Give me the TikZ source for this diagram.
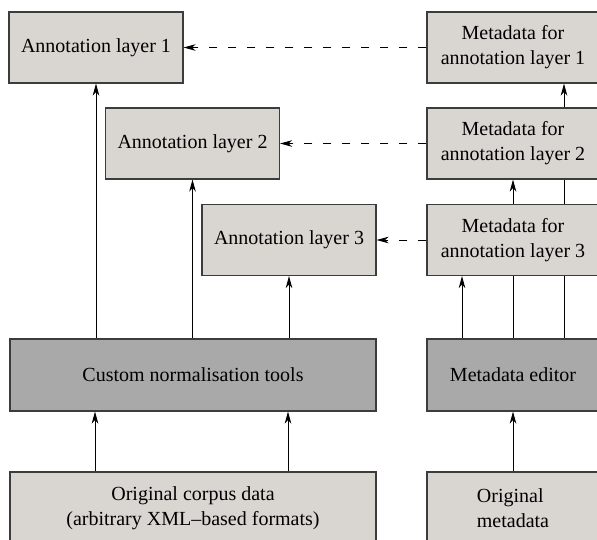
\documentclass[tikz,border=0pt]{standalone}
\usepackage{fontspec}
\setmainfont{Liberation Serif}
\usetikzlibrary{arrows.meta,backgrounds,calc}
\definecolor{lightbox}{RGB}{217,214,210}
\definecolor{darkbox}{RGB}{169,169,169}
\definecolor{boxline}{RGB}{60,60,60}
\tikzset{
  lbox/.style={draw=boxline, line width=1.1pt, fill=lightbox, rectangle, inner sep=0pt, align=center,
    font=\fontsize{20}{25}\selectfont},
  dbox/.style={lbox, fill=darkbox},
  arr/.style={line width=0.9pt, -{Stealth[length=12pt,width=6.5pt,inset=3.5pt]}},
  darr/.style={arr, dash pattern=on 8pt off 11pt},
}
\begin{document}
\begin{tikzpicture}[x=1pt,y=-1pt]
\clip (0,0) rectangle (597,539);
% annotation layers
\node[lbox, minimum width=174pt, minimum height=71pt] (al1) at (96,47.5) {Annotation layer 1};
\node[lbox, minimum width=174pt, minimum height=71pt] (al2) at (192.5,143.5) {Annotation layer 2};
\node[lbox, minimum width=174pt, minimum height=71pt] (al3) at (289,240) {Annotation layer 3};
% metadata
\node[lbox, minimum width=172pt, minimum height=71pt] (m1) at (513,47.5) {Metadata for\\annotation layer 1};
\node[lbox, minimum width=172pt, minimum height=71pt] (m2) at (513,143.5) {Metadata for\\annotation layer 2};
\node[lbox, minimum width=172pt, minimum height=71pt] (m3) at (513,240) {Metadata for\\annotation layer 3};
% tools
\node[dbox, minimum width=366pt, minimum height=72pt] (cnt) at (193,375) {Custom normalisation tools};
\node[dbox, minimum width=172pt, minimum height=72pt] (me) at (513,375) {Metadata editor};
% sources
\node[lbox, minimum width=366pt, minimum height=72pt] (ocd) at (193,508) {Original corpus data\\(arbitrary XML\char"2013 based formats)};
\node[lbox, minimum width=172pt, minimum height=72pt, align=left] (om) at (513,508) {Original\\metadata};
% connectors
\coordinate (c1) at ($(cnt.north west)!(al1.south)!(cnt.north east)$);
\coordinate (c2) at ($(cnt.north west)!(al2.south)!(cnt.north east)$);
\coordinate (c3) at ($(cnt.north west)!(al3.south)!(cnt.north east)$);
\coordinate (e1) at ($(me.north)+(-51,0)$);
\coordinate (e3) at ($(me.north)+(51,0)$);
\coordinate (o1) at ($(ocd.north)+(-98,0)$);
\coordinate (o2) at ($(ocd.north)+(95,0)$);
\begin{scope}[on background layer]
\fill[white] (0,0) rectangle (597,539);
\draw[arr] (c1) -- (al1.south);
\draw[arr] (c2) -- (al2.south);
\draw[arr] (c3) -- (al3.south);
\draw[arr] (o1) -- (o1 |- cnt.south);
\draw[arr] (o2) -- (o2 |- cnt.south);
\draw[arr] (e1) -- (e1 |- m3.south);
\draw[arr] (me.north) -- (m2.south);
\draw[arr] (e3) -- (e3 |- m1.south);
\draw[arr] (om.north) -- (me.south);
\end{scope}
\draw[darr] (m1.west) -- (al1.east);
\draw[darr] (m2.west) -- (al2.east);
\draw[darr] (m3.west) -- (al3.east);
\end{tikzpicture}
\end{document}
